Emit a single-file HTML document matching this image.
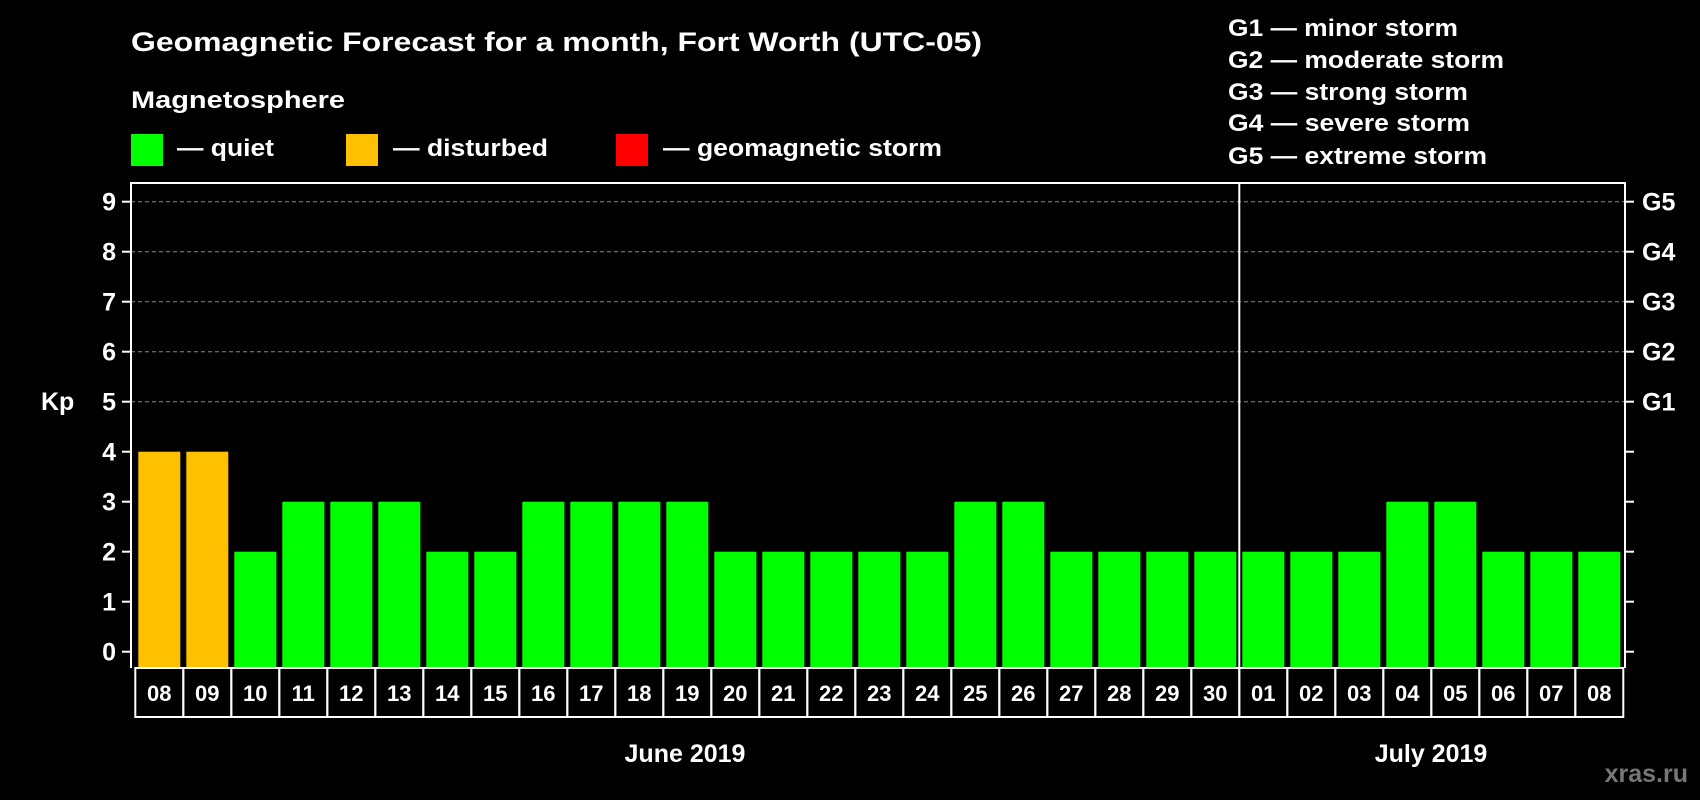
<!DOCTYPE html>
<html><head><meta charset="utf-8"><style>
html,body{margin:0;padding:0;background:#000;}
svg{display:block;font-family:"Liberation Sans",sans-serif;font-weight:bold;}
</style></head><body>
<svg id="chart" width="1700" height="800" viewBox="0 0 1700 800" xmlns="http://www.w3.org/2000/svg">
<rect width="1700" height="800" fill="#000"/>
<text x="131" y="51" fill="#fff" font-size="27" textLength="851" lengthAdjust="spacingAndGlyphs">Geomagnetic Forecast for a month, Fort Worth (UTC-05)</text>
<text x="131" y="108" fill="#fff" font-size="24" textLength="214" lengthAdjust="spacingAndGlyphs">Magnetosphere</text>
<g>
<rect x="131" y="134" width="32" height="32" fill="#00ff00"/>
<text x="177" y="156" fill="#fff" font-size="24" textLength="97" lengthAdjust="spacingAndGlyphs">— quiet</text></g>
<g>
<rect x="346" y="134" width="32" height="32" fill="#ffc000"/>
<text x="393" y="156" fill="#fff" font-size="24" textLength="155" lengthAdjust="spacingAndGlyphs">— disturbed</text></g>
<g>
<rect x="616" y="134" width="32" height="32" fill="#ff0000"/>
<text x="663" y="156" fill="#fff" font-size="24" textLength="279" lengthAdjust="spacingAndGlyphs">— geomagnetic storm</text></g>
<g fill="#fff" font-size="24">
<text x="1228" y="36" textLength="230" lengthAdjust="spacingAndGlyphs">G1 — minor storm</text>
<text x="1228" y="68" textLength="276" lengthAdjust="spacingAndGlyphs">G2 — moderate storm</text>
<text x="1228" y="100" textLength="240" lengthAdjust="spacingAndGlyphs">G3 — strong storm</text>
<text x="1228" y="131" textLength="242" lengthAdjust="spacingAndGlyphs">G4 — severe storm</text>
<text x="1228" y="164" textLength="259" lengthAdjust="spacingAndGlyphs">G5 — extreme storm</text>
</g>
<text x="41" y="410" fill="#fff" font-size="25">Kp</text>
<g id="plot"></g>
<text x="685" y="762" fill="#fff" font-size="25" text-anchor="middle">June 2019</text>
<text x="1431" y="762" fill="#fff" font-size="25" text-anchor="middle">July 2019</text>
<text x="1688" y="782" fill="#777" font-size="25" text-anchor="end">xras.ru</text>
</svg>
<script>
const days = ["08","09","10","11","12","13","14","15","16","17","18","19","20","21","22","23","24","25","26","27","28","29","30","01","02","03","04","05","06","07","08"];
const kpValues = [4,4,2,3,3,3,2,2,3,3,3,3,2,2,2,2,2,3,3,2,2,2,2,2,2,2,3,3,2,2,2];
const yTicks = [0,1,2,3,4,5,6,7,8,9];
const gLabels = ["G1","G2","G3","G4","G5"];
const monthSplitIndex = 23;

(function(){
const NS = "http://www.w3.org/2000/svg";
const plot = document.getElementById('plot');
const plotLeft = 131, plotRight = 1625, plotTop = 183, plotBottom = 668;
const cellStart = 135.3, cellW = 48, barW = 42;
function y(v){ return 651.7 - 50*v; }
function xCell(i){ return cellStart + cellW*i; }
function mk(tag, attrs){ const e=document.createElementNS(NS,tag); for(const k in attrs) e.setAttribute(k,attrs[k]); plot.appendChild(e); return e; }
function color(v){ return v>=5 ? "#ff0000" : (v>=4 ? "#ffc000" : "#00ff00"); }

yTicks.forEach(t=>{
  if(t>=5){
    const g=mk('line',{x1:plotLeft,x2:plotRight,y1:y(t),y2:y(t),stroke:"#888","stroke-width":1,"stroke-dasharray":"4 3"});
    
    
  }
  const tl=mk('line',{x1:plotLeft-9,x2:plotLeft,y1:y(t),y2:y(t),stroke:"#fff","stroke-width":2});
  
  
  const tr=mk('line',{x1:plotRight,x2:plotRight+9,y1:y(t),y2:y(t),stroke:"#fff","stroke-width":2});
  
  
  const lb=mk('text',{x:116,y:y(t)+9,fill:"#fff","font-size":25,"text-anchor":"end"});
  lb.textContent=t;
  
  
});
gLabels.forEach((g,i)=>{
  const lb=mk('text',{x:1642,y:y(5+i)+9,fill:"#fff","font-size":25});
  lb.textContent=g;
  
  
});
kpValues.forEach((v,i)=>{
  const b=mk('rect',{x:xCell(i)+3,y:y(v),width:barW,height:plotBottom-1-y(v),fill:color(v)});
  
  
});
days.forEach((d,i)=>{
  const c=mk('rect',{x:xCell(i),y:plotBottom,width:cellW,height:49,fill:"none",stroke:"#fff","stroke-width":2});
  
  
  const t=mk('text',{x:xCell(i)+cellW/2,y:701,fill:"#fff","font-size":22,"text-anchor":"middle"});
  t.textContent=d;
  
  
});
const frame=mk('path',{d:`M${plotLeft},${plotBottom} V${plotTop} H${plotRight} V${plotBottom}`,fill:"none",stroke:"#fff","stroke-width":2});


const div=mk('line',{x1:xCell(monthSplitIndex),x2:xCell(monthSplitIndex),y1:plotTop,y2:plotBottom,stroke:"#fff","stroke-width":2});


})();
</script>
</body></html>
